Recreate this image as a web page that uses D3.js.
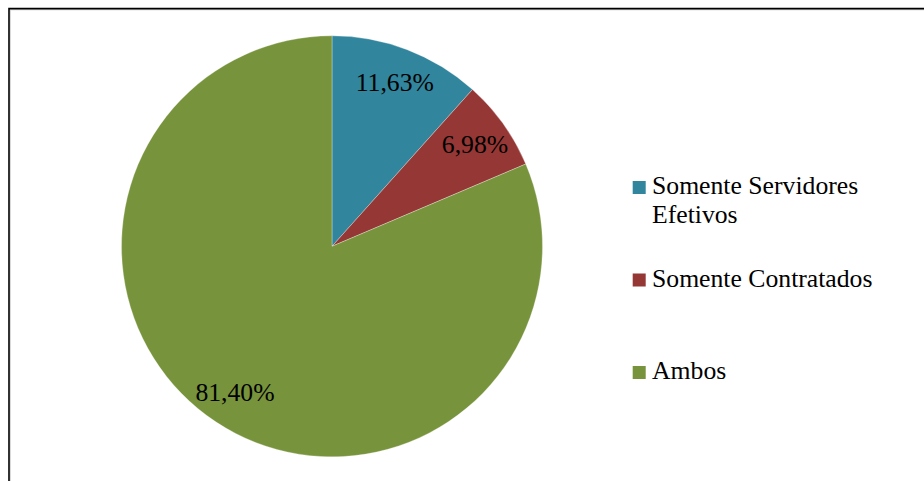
<!DOCTYPE html>
<html>
<head>
<meta charset="utf-8">
<script src="https://cdn.jsdelivr.net/npm/d3@7"></script>
<style>
html,body{margin:0;padding:0;background:#fff;}
svg{display:block;}
text{font-family:"Liberation Serif","Times New Roman",serif;fill:#000;}
</style>
</head>
<body>
<svg id="chart" width="924" height="481"></svg>
<script>
const categories = ["Somente Servidores Efetivos", "Somente Contratados", "Ambos"];
const legendLines = [["Somente Servidores", "Efetivos"], ["Somente Contratados"], ["Ambos"]];
const values = [11.63, 6.98, 81.40];
const labels = ["11,63%", "6,98%", "81,40%"];
const colors = ["#31859C", "#953735", "#77933C"];

const svg = d3.select("#chart");

// frame
svg.append("line").attr("x1", 9).attr("y1", 9.8).attr("x2", 930).attr("y2", 9.8)
  .attr("stroke", "#d0d0d0").attr("stroke-width", 1);
svg.append("line").attr("x1", 10.3).attr("y1", 9.8).attr("x2", 10.3).attr("y2", 490)
  .attr("stroke", "#d0d0d0").attr("stroke-width", 1);
svg.append("path").attr("d", "M9,490 L9,8.6 L930,8.6")
  .attr("fill", "none").attr("stroke", "#000").attr("stroke-width", 1.6);

const cx = 332, cy = 246.3, r = 210.5;
const g = svg.append("g").attr("transform", `translate(${cx},${cy})`);

const pie = d3.pie().sort(null).value(d => d)(values);
const arc = d3.arc().innerRadius(0).outerRadius(r);
const labelArc = d3.arc().innerRadius(r * 0.835).outerRadius(r * 0.835);

g.selectAll("path.slice").data(pie).enter().append("path")
  .attr("class", "slice")
  .attr("d", arc)
  .attr("fill", (d, i) => colors[i])
  .attr("stroke", "#ffffff").attr("stroke-width", 0.5).attr("stroke-opacity", 0.6);

g.selectAll("text.lbl").data(pie).enter().append("text")
  .attr("class", "lbl")
  .attr("transform", d => `translate(${labelArc.centroid(d)})`)
  .attr("text-anchor", "middle")
  .attr("dy", "0.33em")
  .style("font-size", "25.7px")
  .text((d, i) => labels[i]);

// legend
const legendY = d3.scalePoint().domain(categories).range([194, 379]);
const lg = svg.append("g");
categories.forEach((c, i) => {
  const y = legendY(c);
  lg.append("rect").attr("x", 632.7).attr("y", y - 13).attr("width", 13).attr("height", 13)
    .attr("fill", colors[i]);
  const t = lg.append("text").attr("x", 652).attr("y", y).style("font-size", "25.7px");
  legendLines[i].forEach((ln, j) => {
    t.append("tspan").attr("x", 652).attr("dy", j === 0 ? 0 : 29).text(ln);
  });
});
</script>
</body>
</html>
